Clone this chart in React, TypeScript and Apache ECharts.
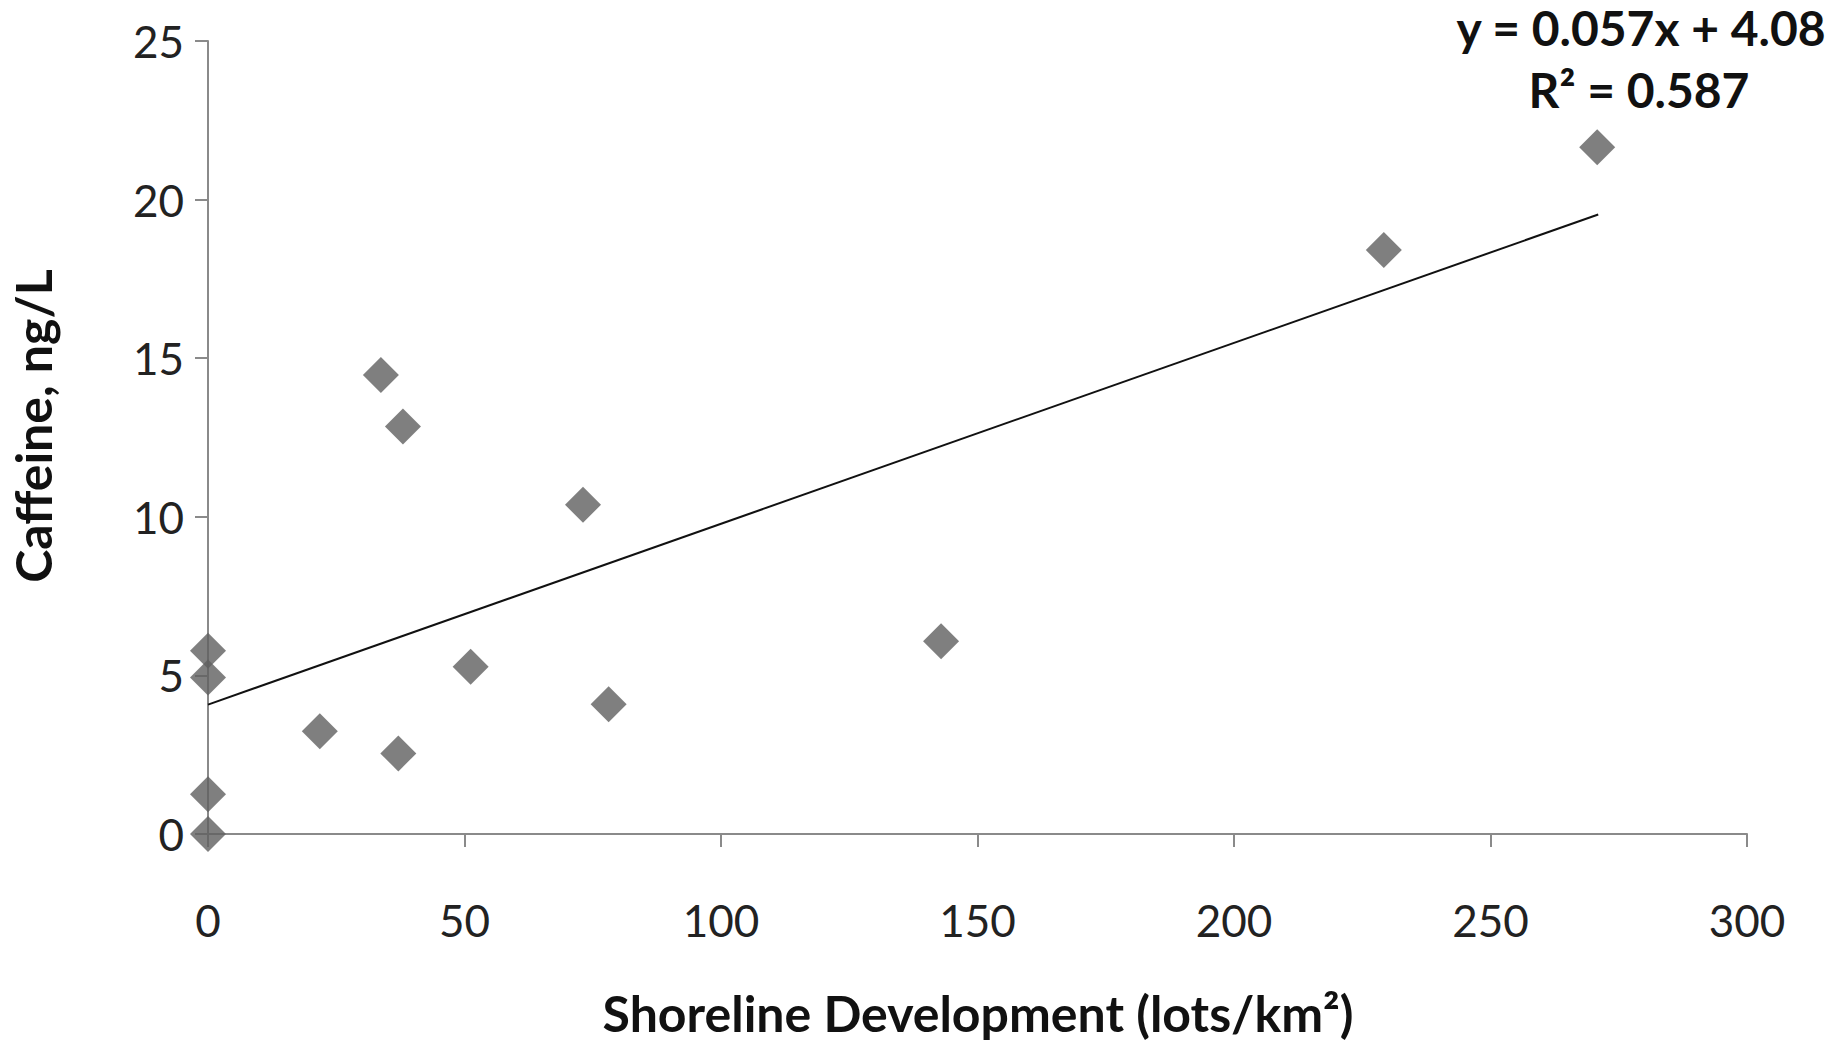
import React, { useEffect, useRef } from "react";
import * as echarts from "echarts";

const xValues = [0, 0, 0, 0, 21.8, 33.7, 38.0, 37.1, 51.2, 73.1, 78.1, 142.9, 229.2, 270.8];
const yValues = [5.78, 4.93, 1.25, 0, 3.24, 14.47, 12.85, 2.54, 5.27, 10.38, 4.09, 6.08, 18.41, 21.65];
const trendX = [0, 271];
const trendY = [4.08, 19.53];
const xTicks = [0, 50, 100, 150, 200, 250, 300];
const yTicks = [0, 5, 10, 15, 20, 25];
const equationText = "y = 0.057x + 4.08";
const r2Text = "R\u00B2 = 0.587";
const xTitle = "Shoreline Development (lots/km\u00B2)";
const yTitle = "Caffeine, ng/L";

const FONT = "Lato, 'Open Sans', sans-serif";

export default function App() {
  const ref = useRef<HTMLDivElement>(null);
  useEffect(() => {
    if (!ref.current) return;
    const chart = echarts.init(ref.current, null, { renderer: "svg" });
    const points = xValues.map((x, i) => [x, yValues[i]]);
    const trend = trendX.map((x, i) => [x, trendY[i]]);
    const titleStyle = {
      fontWeight: "bold",
      fontFamily: FONT,
      fill: "#111",
      textAlign: "center",
      textVerticalAlign: "middle",
    };
    chart.setOption({
      animation: false,
      backgroundColor: "#ffffff",
      grid: { left: 208, right: 84, top: 41, bottom: 213, containLabel: false },
      xAxis: {
        type: "value",
        min: xTicks[0],
        max: xTicks[xTicks.length - 1],
        interval: xTicks[1] - xTicks[0],
        axisLine: { show: true, onZero: false, lineStyle: { color: "#8a8a8a", width: 2 } },
        axisTick: { show: true, inside: false, length: 13, lineStyle: { color: "#8a8a8a", width: 2 } },
        splitLine: { show: false },
        axisLabel: { margin: 64, fontSize: 44, color: "#222", fontFamily: FONT },
      },
      yAxis: {
        type: "value",
        min: yTicks[0],
        max: yTicks[yTicks.length - 1],
        interval: yTicks[1] - yTicks[0],
        axisLine: { show: true, onZero: false, lineStyle: { color: "#8a8a8a", width: 2 } },
        axisTick: { show: true, inside: false, length: 13, lineStyle: { color: "#8a8a8a", width: 2 } },
        splitLine: { show: false },
        axisLabel: { margin: 24, fontSize: 44, color: "#222", fontFamily: FONT },
      },
      series: [
        {
          type: "line",
          data: trend,
          symbol: "none",
          lineStyle: { color: "#111", width: 2 },
          z: 1,
        },
        {
          type: "scatter",
          data: points,
          symbol: "diamond",
          symbolSize: [36, 36],
          itemStyle: { color: "#5f5f5f" },
          z: 2,
        },
      ],
      graphic: [
        {
          type: "text",
          x: 978,
          y: 1013,
          style: { ...titleStyle, text: xTitle, fontSize: 50 },
        },
        {
          type: "text",
          x: 33,
          y: 426,
          rotation: Math.PI / 2,
          style: { ...titleStyle, text: yTitle, fontSize: 50 },
        },
        {
          type: "text",
          x: 1641,
          y: 27,
          style: { ...titleStyle, text: equationText, fontSize: 48 },
        },
        {
          type: "text",
          x: 1639,
          y: 89,
          style: { ...titleStyle, text: r2Text, fontSize: 48 },
        },
      ],
    });
    return () => chart.dispose();
  }, []);
  return (
    <div
      ref={ref}
      style={{ position: "fixed", left: 0, top: 0, width: 1831, height: 1047, background: "#fff" }}
    />
  );
}
